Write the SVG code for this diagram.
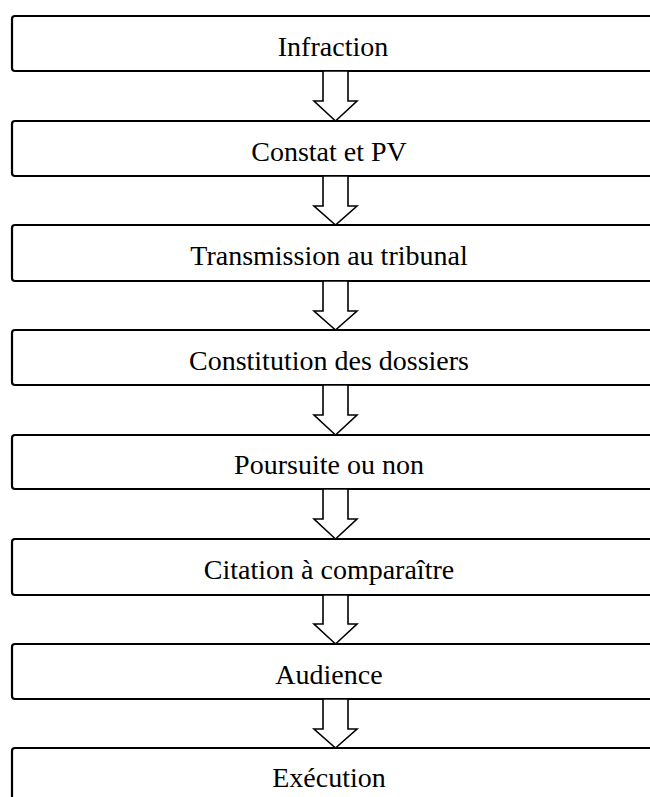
<svg xmlns="http://www.w3.org/2000/svg" width="650" height="797" viewBox="0 0 650 797">
<style>
.box{fill:#fff;stroke:#000;stroke-width:2.2}
.lbl{font-family:"Liberation Serif","Times New Roman",serif;font-size:28px;fill:#000;text-anchor:middle}
.arr{fill:#fff;stroke:#000;stroke-width:1.6;stroke-linejoin:miter}
</style>
<rect width="650" height="797" fill="#fff"/>
<g id="n1"><rect class="box" x="12" y="16" width="700" height="55" rx="3"/><text class="lbl" x="333" y="56">Infraction</text></g>
<g id="n2"><rect class="box" x="12" y="121" width="700" height="55" rx="3"/><text class="lbl" x="329" y="161">Constat et PV</text></g>
<g id="n3"><rect class="box" x="12" y="225" width="700" height="56" rx="3"/><text class="lbl" x="329" y="265">Transmission au tribunal</text></g>
<g id="n4"><rect class="box" x="12" y="330" width="700" height="55" rx="3"/><text class="lbl" x="329" y="370">Constitution des dossiers</text></g>
<g id="n5"><rect class="box" x="12" y="435" width="700" height="54" rx="3"/><text class="lbl" x="329" y="474">Poursuite ou non</text></g>
<g id="n6"><rect class="box" x="12" y="539" width="700" height="56" rx="3"/><text class="lbl" x="329" y="579">Citation à comparaître</text></g>
<g id="n7"><rect class="box" x="12" y="644" width="700" height="55" rx="3"/><text class="lbl" x="329" y="684">Audience</text></g>
<g id="n8"><rect class="box" x="12" y="748" width="700" height="60" rx="3"/><text class="lbl" x="329" y="787">Exécution</text></g>
<g id="connectors">
<polygon class="arr" points="323,71 348,71 348,101 357,101 335.5,121 314,101 323,101"/>
<polygon class="arr" points="323,176 348,176 348,206 357,206 335.5,225 314,206 323,206"/>
<polygon class="arr" points="323,281 348,281 348,311 357,311 335.5,330 314,311 323,311"/>
<polygon class="arr" points="323,385 348,385 348,415 357,415 335.5,435 314,415 323,415"/>
<polygon class="arr" points="323,489 348,489 348,519 357,519 335.5,539 314,519 323,519"/>
<polygon class="arr" points="323,595 348,595 348,624 357,624 335.5,644 314,624 323,624"/>
<polygon class="arr" points="323,699 348,699 348,729 357,729 335.5,748 314,729 323,729"/>
</g>
</svg>
